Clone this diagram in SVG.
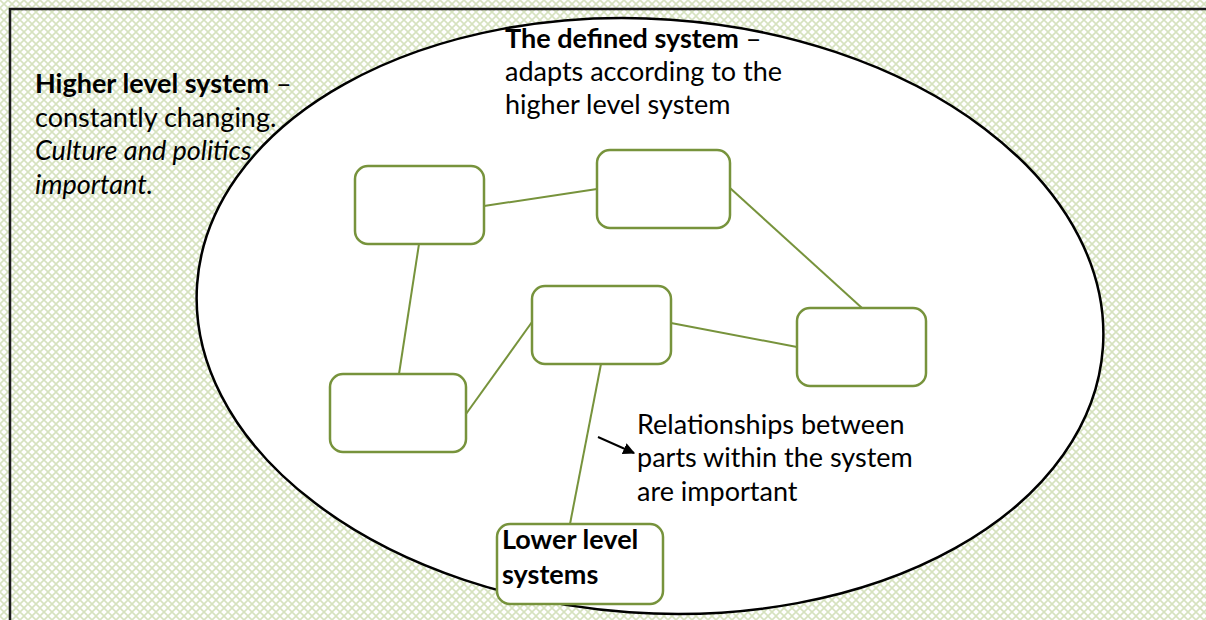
<svg xmlns="http://www.w3.org/2000/svg" width="1206" height="620" viewBox="0 0 1206 620">
<defs>
<pattern id="hatch" width="8" height="8" patternUnits="userSpaceOnUse">
<rect width="8" height="8" fill="#ffffff"/>
<path d="M0,0 L8,8 M8,0 L0,8" stroke="#d6e2bf" stroke-width="1.6"/>
</pattern>
<marker id="ah" viewBox="0 0 10 10" refX="9" refY="5" markerWidth="6" markerHeight="6" orient="auto" markerUnits="strokeWidth">
<path d="M0,0 L10,5 L0,10 z" fill="#000"/>
</marker>
<style>
.box{fill:#fff;stroke:#77933c;stroke-width:2.5}
.con{stroke:#77933c;stroke-width:2;fill:none}
.t{font-family:Lato,"Open Sans","Liberation Sans",sans-serif;font-size:27px;fill:#000}
.b{font-weight:bold}
.i{font-style:italic}
</style>
</defs>
<rect width="1206" height="620" fill="url(#hatch)"/>
<path d="M10,640 L10,9 L1210,9" fill="none" stroke="#1a1a1a" stroke-width="2.5"/>
<g id="defined-system">
<ellipse cx="650" cy="316" rx="454" ry="297" transform="rotate(4 650 316)" fill="#fff" stroke="#000" stroke-width="2.5"/>
</g>
<g id="connectors">
<line class="con" x1="484" y1="206" x2="597" y2="189"/>
<line class="con" x1="730" y1="188" x2="862" y2="308"/>
<line class="con" x1="419" y1="244" x2="399" y2="374"/>
<line class="con" x1="466" y1="414" x2="532" y2="322"/>
<line class="con" x1="671" y1="323" x2="797" y2="347"/>
<line class="con" x1="601" y1="364" x2="570" y2="524"/>
<line x1="598" y1="437" x2="634" y2="453" stroke="#000" stroke-width="2" marker-end="url(#ah)"/>
</g>
<g id="node1"><rect class="box" x="355" y="166" width="129" height="78" rx="13"/></g>
<g id="node2"><rect class="box" x="597" y="150" width="133" height="78" rx="13"/></g>
<g id="node3"><rect class="box" x="532" y="286" width="139" height="78" rx="13"/></g>
<g id="node4"><rect class="box" x="797" y="308" width="129" height="78" rx="13"/></g>
<g id="node5"><rect class="box" x="330" y="374" width="136" height="78" rx="13"/></g>
<g id="lower">
<rect class="box" x="497" y="524" width="166" height="80" rx="13"/>
<text class="t b" x="502" y="549">Lower level</text>
<text class="t b" x="502" y="584">systems</text>
</g>
<g id="higher-label">
<text class="t" x="35" y="93"><tspan class="b">Higher level system</tspan> –</text>
<text class="t" x="35" y="127">constantly changing.</text>
<text class="t i" x="35" y="160">Culture and politics</text>
<text class="t i" x="35" y="194">important.</text>
</g>
<g id="defined-label">
<text class="t" x="505" y="48"><tspan class="b">The defined system</tspan> –</text>
<text class="t" x="505" y="81">adapts according to the</text>
<text class="t" x="505" y="114">higher level system</text>
</g>
<g id="relationships-label">
<text class="t" x="637" y="434">Relationships between</text>
<text class="t" x="637" y="467">parts within the system</text>
<text class="t" x="637" y="501">are important</text>
</g>
</svg>
